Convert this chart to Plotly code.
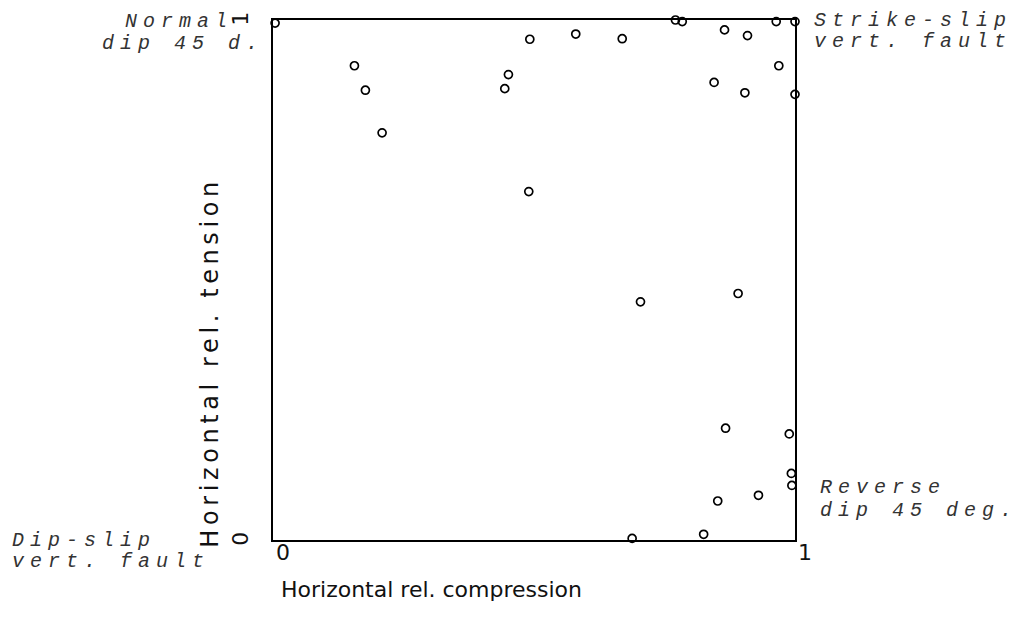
import plotly.graph_objects as go

# Horizontal relative compression (x) and tension (y) for each fault-plane solution
x_compression = [0.004, 0.156, 0.177, 0.209, 0.444, 0.451, 0.492, 0.490,
                 0.580, 0.669, 0.771, 0.784, 0.865, 0.909, 0.964, 1.000,
                 0.969, 0.845, 0.904, 1.000, 0.704, 0.891, 0.867, 0.989,
                 0.993, 0.994, 0.930, 0.852, 0.825, 0.688]
y_tension = [0.994, 0.912, 0.865, 0.783, 0.868, 0.895, 0.963, 0.670,
             0.973, 0.964, 1.000, 0.997, 0.981, 0.970, 0.997, 0.997,
             0.912, 0.880, 0.860, 0.857, 0.458, 0.474, 0.215, 0.204,
             0.128, 0.105, 0.086, 0.075, 0.011, 0.003]

tick_vals = [0, 1]
tick_text = ["0", "1"]

x_title = "Horizontal rel. compression"
y_title = "Horizontal rel. tension"

# corner labels: (text line, paper x of left edge, paper y of line centre)
corner_text = ["Normal", "dip 45 d.", "Strike-slip", "vert. fault",
               "Reverse", "dip 45 deg.", "Dip-slip", "vert. fault"]
corner_x = [-0.2874, -0.3314, 1.0326, 1.0326, 1.044, 1.044, -0.5038, -0.5038]
corner_y = [0.998, 0.954, 1.0, 0.958, 0.1015, 0.0575, 0.0, -0.0421]

SANS = "DejaVu Sans, sans-serif"
MONO = "Liberation Mono, DejaVu Sans Mono, monospace"

fig = go.Figure()
fig.add_trace(go.Scatter(
    x=x_compression, y=y_tension, mode="markers",
    marker=dict(symbol="circle-open", size=8, color="black",
                line=dict(width=1.7, color="black")),
    cliponaxis=False, showlegend=False, hoverinfo="x+y",
))

axis_common = dict(
    range=[0, 1], tickvals=tick_vals, ticktext=tick_text,
    showgrid=False, zeroline=False, showline=True, mirror=True,
    linecolor="black", linewidth=1.5, ticks="",
    tickfont=dict(family=SANS, size=22, color="#111"),
)
fig.update_xaxes(**axis_common, ticklabelshift=10, ticklabelstandoff=-8)
fig.update_yaxes(**axis_common, tickangle=-90, ticklabelshift=2,
                 ticklabelstandoff=14)

annotations = [
    dict(text=x_title, xref="paper", yref="paper", x=0.3027, y=-0.0958,
         xanchor="center", yanchor="middle", showarrow=False,
         font=dict(family=SANS, size=22, color="#111")),
    dict(text='<span style="letter-spacing:4.6px">' + y_title + "</span>",
         xref="paper", yref="paper", x=-0.1207,
         y=0.341, textangle=-90, xanchor="center", yanchor="middle",
         showarrow=False, font=dict(family=SANS, size=24, color="#111")),
]
for t, cx, cy in zip(corner_text, corner_x, corner_y):
    annotations.append(dict(
        text='<span style="letter-spacing:6px">' + t + "</span>",
        xref="paper", yref="paper", x=cx, y=cy,
        xanchor="left", yanchor="middle", showarrow=False,
        font=dict(family=MONO, size=20, color="#333", style="italic"),
    ))

fig.update_layout(
    width=1024, height=630,
    margin=dict(l=273, r=229, t=18, b=90),
    paper_bgcolor="white", plot_bgcolor="white",
    annotations=annotations,
)

fig.write_html("out.html")
